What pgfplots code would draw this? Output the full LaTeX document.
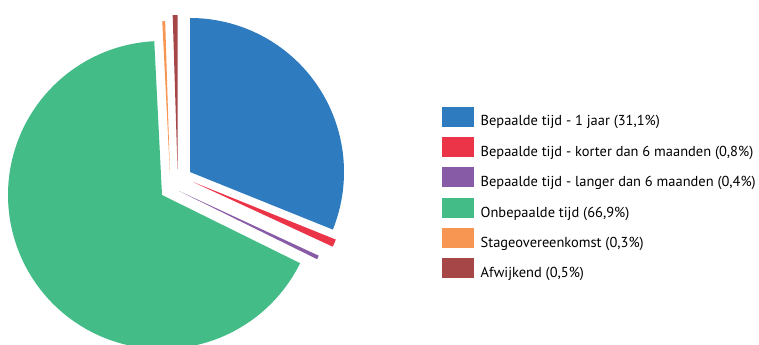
\documentclass[border=0pt]{standalone}
\usepackage{fontspec}
\setmainfont{PT Sans}
\usepackage{pgfplots}
\pgfplotsset{compat=1.18}
\definecolor{cBlue}{RGB}{46,123,192}
\definecolor{cRed}{RGB}{236,52,72}
\definecolor{cPurple}{RGB}{136,91,166}
\definecolor{cGreen}{RGB}{67,188,135}
\definecolor{cOrange}{RGB}{246,150,82}
\definecolor{cDark}{RGB}{166,70,70}
% shares in percent
\def\pA{31.1}\def\pB{0.8}\def\pC{0.4}\def\pD{66.9}\def\pE{0.3}\def\pF{0.5}
\pgfmathsetmacro\aA{0}
\pgfmathsetmacro\aB{\aA+3.6*\pA}
\pgfmathsetmacro\aC{\aB+3.6*\pB}
\pgfmathsetmacro\aD{\aC+3.6*\pC}
\pgfmathsetmacro\aE{\aD+3.6*\pD}
\pgfmathsetmacro\aF{\aE+3.6*\pE}
\pgfmathsetmacro\aG{\aF+3.6*\pF}
\def\R{154}
\begin{document}
\begin{tikzpicture}
\begin{axis}[
  width=759bp, height=345bp, scale only axis,
  xmin=0, xmax=759, ymin=0, ymax=345, y dir=reverse,
  axis line style={draw=none}, ticks=none,
  clip=true, clip bounding box=upper bound,
  legend style={at={(axis cs:442,106.5)}, anchor=north west, draw=none, fill=none,
    inner sep=0pt, outer sep=0pt, row sep=9.5bp, font=\fontsize{14.5}{16}\selectfont,
    nodes={inner sep=0pt},
    /tikz/every odd column/.style={column sep=6.7bp}},
  legend cell align=left,
  legend image code/.code={\fill[#1] (0bp,-5bp) rectangle (32bp,15bp);},
]
\addplot[fill=cBlue, draw=none, domain=\aA:\aB, samples=120, variable=\t]
  ({190+\R*sin(\t)},{172-\R*cos(\t)}) -- (axis cs:190,172) -- cycle;
\addlegendentry{Bepaalde tijd - 1 jaar (31,1\%)}
\addplot[fill=cRed, draw=none, domain=\aB:\aC, samples=10, variable=\t]
  ({193+\R*sin(\t)},{182-\R*cos(\t)}) -- (axis cs:193,182) -- cycle;
\addlegendentry{Bepaalde tijd - korter dan 6 maanden (0,8\%)}
\addplot[fill=cPurple, draw=none, domain=\aC:\aD, samples=10, variable=\t]
  ({179+\R*sin(\t)},{191-\R*cos(\t)}) -- (axis cs:179,191) -- cycle;
\addlegendentry{Bepaalde tijd - langer dan 6 maanden (0,4\%)}
\addplot[fill=cGreen, draw=none, domain=\aD:\aE, samples=240, variable=\t]
  ({162+\R*sin(\t)},{195-\R*cos(\t)}) -- (axis cs:162,195) -- cycle;
\addlegendentry{Onbepaalde tijd (66,9\%)}
\addplot[fill=cOrange, draw=none, domain=\aE:\aF, samples=10, variable=\t]
  ({170+\R*sin(\t)},{175-\R*cos(\t)}) -- (axis cs:170,175) -- cycle;
\addlegendentry{Stageovereenkomst (0,3\%)}
\addplot[fill=cDark, draw=none, domain=\aF:\aG, samples=10, variable=\t]
  ({177.5+\R*sin(\t)},{169-\R*cos(\t)}) -- (axis cs:177.5,169) -- cycle;
\addlegendentry{Afwijkend (0,5\%)}
\end{axis}
\end{tikzpicture}
\end{document}
